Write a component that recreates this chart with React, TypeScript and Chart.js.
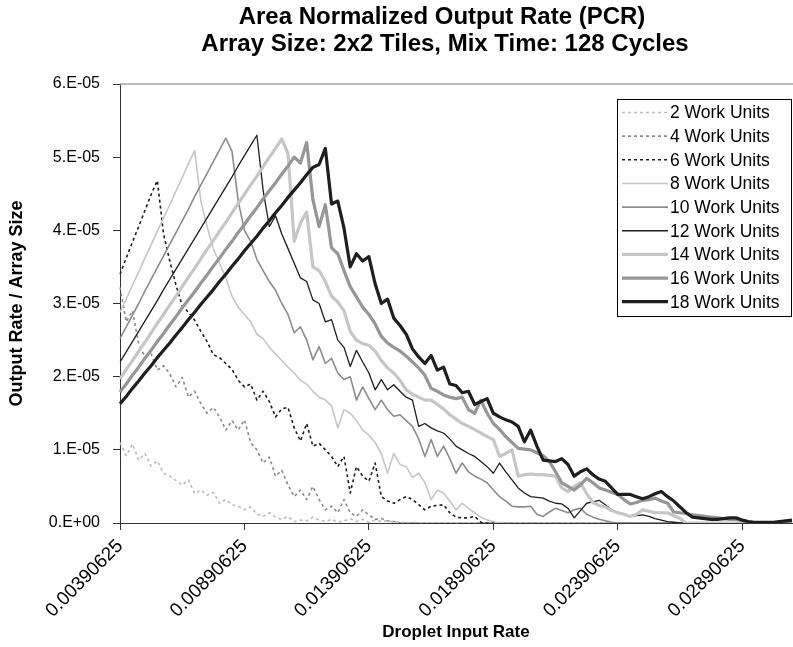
import React, { useEffect, useRef } from "react";
import { Chart, registerables } from "chart.js";

Chart.register(...registerables);

const FONT = '"Liberation Sans", Arial, Helvetica, sans-serif';

const TITLE_LINES = ["Area Normalized Output Rate (PCR)", "Array Size: 2x2 Tiles, Mix Time: 128 Cycles"];
const X_TITLE = "Droplet Input Rate";
const Y_TITLE = "Output Rate / Array Size";

// x categories: droplet input rate, one point every 0.00025
const X_START = 0.00390625;
const X_STEP = 0.00025;
const POINT_COUNT = 109;
const categories: string[] = Array.from({ length: POINT_COUNT }, (_, i) => String(+(X_START + i * X_STEP).toFixed(8)));
const xTickLabels = ["0.00390625", "0.00890625", "0.01390625", "0.01890625", "0.02390625", "0.02890625"];
const X_LABEL_EVERY = 20;

// y values are in units of 1e-5
const yTickLabels = ["0.E+00", "1.E-05", "2.E-05", "3.E-05", "4.E-05", "5.E-05", "6.E-05"];

const seriesNames = [
  "2 Work Units", "4 Work Units", "6 Work Units", "8 Work Units", "10 Work Units",
  "12 Work Units", "14 Work Units", "16 Work Units", "18 Work Units",
];

const wu2 = [
  1.10, 0.92, 1.08, 0.86, 0.95, 0.78, 0.85, 0.68, 0.64, 0.58,
  0.52, 0.59, 0.40, 0.45, 0.38, 0.42, 0.27, 0.32, 0.25, 0.23,
  0.18, 0.22, 0.12, 0.09, 0.14, 0.08, 0.05, 0.09, 0.02, 0.04,
  0.03, 0.08, 0.04, 0.02, 0.05, 0.01, 0.03, 0.06, 0.02, 0.05,
  0.01, 0.04, 0.02, 0.03, 0.01, 0.02, 0, 0.01, 0, 0,
  0, 0, 0, 0, 0, 0, 0, 0, 0, 0,
  0, 0, 0, 0, 0, 0, 0, 0, 0, 0,
  0, 0, 0, 0, 0, 0, 0, 0, 0, 0,
  0, 0, 0, 0, 0, 0, 0, 0, 0, 0,
  0, 0, 0, 0, 0, 0, 0, 0, 0, 0,
  0, 0, 0, 0, 0, 0, 0, 0, 0,
];
const wu4 = [
  3.22, 2.75, 2.90, 2.45, 2.27, 2.31, 2.09, 2.15, 2.04, 1.86,
  1.99, 1.72, 1.80, 1.63, 1.50, 1.58, 1.45, 1.27, 1.40, 1.27,
  1.41, 1.10, 1.00, 0.82, 0.90, 0.64, 0.72, 0.52, 0.36, 0.45,
  0.32, 0.50, 0.32, 0.18, 0.23, 0.14, 0.32, 0.14, 0.09, 0.18,
  0.11, 0.05, 0.06, 0.03, 0.02, 0, 0, 0, 0, 0,
  0, 0, 0, 0, 0, 0, 0, 0, 0, 0,
  0, 0, 0, 0, 0, 0, 0, 0, 0, 0,
  0, 0, 0, 0, 0, 0, 0, 0, 0, 0,
  0, 0, 0, 0, 0, 0, 0, 0, 0, 0,
  0, 0, 0, 0, 0, 0, 0, 0, 0, 0,
  0, 0, 0, 0, 0, 0, 0, 0, 0,
];
const wu6 = [
  3.40, 3.62, 3.84, 4.05, 4.27, 4.49, 4.68, 3.95, 3.58, 3.25,
  2.97, 2.88, 2.77, 2.62, 2.48, 2.30, 2.26, 2.18, 2.10, 1.95,
  1.86, 1.90, 1.68, 1.80, 1.66, 1.45, 1.56, 1.58, 1.30, 1.12,
  1.36, 1.05, 1.09, 1.00, 0.91, 0.77, 0.91, 0.41, 0.77, 0.64,
  0.57, 0.82, 0.36, 0.30, 0.27, 0.32, 0.36, 0.32, 0.25, 0.18,
  0.23, 0.24, 0.25, 0.14, 0.08, 0.07, 0.07, 0.09, 0.01, 0,
  0, 0, 0, 0, 0, 0, 0, 0, 0, 0,
  0, 0, 0, 0, 0, 0, 0, 0, 0, 0,
  0, 0, 0, 0, 0, 0, 0, 0, 0, 0,
  0, 0, 0, 0, 0, 0, 0, 0, 0, 0,
  0, 0, 0, 0, 0, 0, 0, 0, 0,
];
const wu8 = [
  2.88, 3.06, 3.25, 3.43, 3.62, 3.80, 3.99, 4.17, 4.35, 4.54,
  4.72, 4.91, 5.09, 4.40, 4.05, 3.75, 3.55, 3.35, 3.10, 2.95,
  2.85, 2.75, 2.58, 2.52, 2.40, 2.31, 2.22, 2.13, 2.05, 1.95,
  1.90, 1.80, 1.72, 1.68, 1.60, 1.30, 1.55, 1.50, 1.40, 1.27,
  1.20, 1.10, 0.95, 0.68, 0.95, 0.80, 0.77, 0.62, 0.68, 0.55,
  0.32, 0.45, 0.41, 0.30, 0.18, 0.27, 0.20, 0.14, 0.08, 0.04,
  0.02, 0, 0, 0, 0, 0, 0, 0, 0, 0,
  0, 0, 0, 0, 0, 0, 0, 0, 0, 0,
  0, 0, 0, 0, 0, 0, 0, 0, 0, 0,
  0, 0, 0, 0, 0, 0, 0, 0, 0, 0,
  0, 0, 0, 0, 0, 0, 0, 0, 0,
];
const wu10 = [
  2.52, 2.68, 2.84, 3.00, 3.17, 3.33, 3.49, 3.65, 3.81, 3.97,
  4.13, 4.29, 4.46, 4.62, 4.78, 4.94, 5.10, 5.26, 5.08, 4.40,
  4.00, 3.85, 3.60, 3.45, 3.30, 3.18, 3.00, 2.85, 2.60, 2.68,
  2.50, 2.23, 2.41, 2.18, 2.25, 2.05, 1.96, 2.00, 1.68, 1.86,
  1.70, 1.55, 1.68, 1.55, 1.46, 1.48, 1.40, 1.32, 1.15, 0.91,
  1.14, 0.91, 1.05, 0.88, 0.68, 0.82, 0.70, 0.64, 0.60, 0.55,
  0.45, 0.36, 0.30, 0.23, 0.22, 0.22, 0.23, 0.12, 0.09, 0.15,
  0.20, 0.17, 0.14, 0.18, 0.20, 0.12, 0.08, 0.05, 0.03, 0.01,
  0, 0, 0, 0, 0, 0, 0, 0, 0, 0,
  0, 0, 0, 0, 0, 0, 0, 0, 0, 0,
  0, 0, 0, 0, 0, 0, 0, 0, 0,
];
const wu12 = [
  2.20, 2.34, 2.48, 2.62, 2.76, 2.90, 3.04, 3.19, 3.33, 3.47,
  3.61, 3.75, 3.89, 4.03, 4.17, 4.31, 4.45, 4.59, 4.73, 4.88,
  5.02, 5.16, 5.30, 4.55, 4.05, 4.20, 3.95, 3.75, 3.55, 3.35,
  3.30, 3.05, 3.00, 2.75, 2.78, 2.50, 2.40, 2.14, 2.36, 2.20,
  2.05, 1.82, 1.96, 1.82, 1.89, 1.80, 1.72, 1.68, 1.32, 1.36,
  1.30, 1.26, 1.23, 1.15, 1.05, 1.00, 0.95, 0.91, 0.84, 0.77,
  0.68, 0.82, 0.70, 0.59, 0.48, 0.41, 0.36, 0.35, 0.34, 0.30,
  0.27, 0.26, 0.20, 0.07, 0.17, 0.27, 0.29, 0.31, 0.25, 0.18,
  0.15, 0.12, 0.09, 0.10, 0.11, 0.09, 0.06, 0.04, 0.02, 0.01,
  0, 0, 0, 0, 0, 0, 0, 0, 0, 0,
  0, 0, 0, 0, 0, 0, 0, 0, 0,
];
const wu14 = [
  1.97, 2.10, 2.22, 2.35, 2.47, 2.60, 2.73, 2.85, 2.98, 3.10,
  3.23, 3.36, 3.48, 3.61, 3.74, 3.86, 3.99, 4.11, 4.24, 4.37,
  4.49, 4.62, 4.74, 4.87, 5.00, 5.12, 5.25, 5.05, 3.85, 4.10,
  4.25, 3.50, 3.45, 3.30, 3.10, 3.02, 2.90, 2.62, 2.50, 2.45,
  2.43, 2.35, 2.22, 2.12, 2.05, 1.95, 1.82, 1.76, 1.72, 1.68,
  1.68, 1.62, 1.56, 1.48, 1.42, 1.36, 1.32, 1.28, 1.23, 1.18,
  1.14, 0.91, 0.95, 1.00, 0.64, 0.66, 0.67, 0.66, 0.66, 0.65,
  0.64, 0.48, 0.43, 0.50, 0.55, 0.40, 0.28, 0.24, 0.22, 0.17,
  0.14, 0.12, 0.09, 0.12, 0.18, 0.16, 0.14, 0.14, 0.14, 0.10,
  0.06, 0, 0, 0, 0, 0, 0, 0, 0, 0,
  0, 0, 0, 0, 0, 0, 0, 0, 0,
];
const wu16 = [
  1.79, 1.90, 2.02, 2.13, 2.25, 2.36, 2.48, 2.59, 2.71, 2.82,
  2.94, 3.05, 3.16, 3.28, 3.39, 3.51, 3.62, 3.74, 3.85, 3.97,
  4.08, 4.20, 4.31, 4.43, 4.54, 4.65, 4.77, 4.88, 5.00, 4.92,
  5.20, 4.42, 4.05, 4.35, 3.76, 3.68, 3.45, 3.23, 3.09, 2.95,
  2.85, 2.72, 2.55, 2.46, 2.40, 2.35, 2.28, 2.20, 2.12, 2.02,
  1.84, 1.80, 1.75, 1.72, 1.70, 1.72, 1.55, 1.50, 1.68, 1.50,
  1.36, 1.28, 1.18, 1.10, 1.02, 1.01, 1.00, 0.96, 0.92, 0.84,
  0.70, 0.55, 0.50, 0.45, 0.52, 0.61, 0.55, 0.48, 0.45, 0.42,
  0.39, 0.32, 0.26, 0.28, 0.31, 0.32, 0.34, 0.30, 0.27, 0.15,
  0.14, 0.13, 0.11, 0.10, 0.09, 0.08, 0.07, 0.06, 0.05, 0.05,
  0.03, 0.01, 0, 0, 0, 0, 0, 0, 0,
];
const wu18 = [
  1.63, 1.73, 1.84, 1.94, 2.05, 2.15, 2.26, 2.36, 2.46, 2.57,
  2.67, 2.78, 2.88, 2.99, 3.09, 3.19, 3.30, 3.40, 3.51, 3.61,
  3.72, 3.82, 3.92, 4.03, 4.13, 4.24, 4.34, 4.45, 4.55, 4.65,
  4.76, 4.86, 4.90, 5.12, 4.36, 4.40, 4.03, 3.50, 3.68, 3.58,
  3.64, 3.27, 3.00, 3.06, 2.80, 2.70, 2.58, 2.38, 2.27, 2.18,
  2.29, 2.09, 2.13, 1.90, 1.88, 1.78, 1.80, 1.62, 1.66, 1.70,
  1.50, 1.45, 1.41, 1.38, 1.32, 1.11, 1.27, 1.05, 0.86, 0.85,
  0.84, 0.88, 0.80, 0.64, 0.70, 0.74, 0.66, 0.60, 0.57, 0.48,
  0.39, 0.39, 0.39, 0.36, 0.33, 0.36, 0.40, 0.43, 0.36, 0.30,
  0.22, 0.14, 0.08, 0.07, 0.06, 0.05, 0.05, 0.06, 0.07, 0.07,
  0.04, 0.02, 0.01, 0.01, 0.01, 0.01, 0.02, 0.03, 0.04,
];

const seriesValues = [wu2, wu4, wu6, wu8, wu10, wu12, wu14, wu16, wu18];

const seriesStyles = [
  { color: "#bcbcbc", width: 1.6, dash: [3, 3] },
  { color: "#8a8a8a", width: 1.6, dash: [3, 3] },
  { color: "#1e1e1e", width: 1.6, dash: [3, 3] },
  { color: "#c6c6c6", width: 1.6, dash: [] as number[] },
  { color: "#8c8c8c", width: 1.6, dash: [] as number[] },
  { color: "#1e1e1e", width: 1.3, dash: [] as number[] },
  { color: "#c6c6c6", width: 3.2, dash: [] as number[] },
  { color: "#969696", width: 3.2, dash: [] as number[] },
  { color: "#1e1e1e", width: 3.2, dash: [] as number[] },
];

const titlePlugin = {
  id: "twoLineTitle",
  afterDraw(chart: any) {
    const ctx = chart.ctx;
    ctx.save();
    ctx.fillStyle = "#000";
    ctx.font = `bold 24px ${FONT}`;
    ctx.textAlign = "center";
    ctx.textBaseline = "middle";
    ctx.fillText(TITLE_LINES[0], 442, 17);
    ctx.fillText(TITLE_LINES[1], 445, 44);
    ctx.restore();
  },
};

const frameTopPlugin = {
  id: "frameTop",
  beforeDatasetsDraw(chart: any) {
    const { ctx, chartArea } = chart;
    ctx.save();
    ctx.strokeStyle = "#a6a6a6";
    ctx.lineWidth = 1.5;
    ctx.beginPath();
    ctx.moveTo(chartArea.left, chartArea.top);
    ctx.lineTo(chartArea.right + 2, chartArea.top);
    ctx.stroke();
    ctx.restore();
  },
};

const boxLegendPlugin = {
  id: "boxLegend",
  afterDraw(chart: any) {
    const { ctx } = chart;
    const left = 617, top = 99, right = 792, bottom = 317;
    ctx.save();
    ctx.fillStyle = "#fff";
    ctx.fillRect(left, top, right - left, bottom - top);
    ctx.strokeStyle = "#000";
    ctx.lineWidth = 1;
    ctx.strokeRect(left + 0.5, top + 0.5, right - left - 1, bottom - top - 1);
    chart.data.datasets.forEach((ds: any, k: number) => {
      const y = 112.5 + k * 23.65;
      ctx.beginPath();
      ctx.setLineDash(ds.borderDash || []);
      ctx.strokeStyle = ds.borderColor;
      ctx.lineWidth = ds.borderWidth;
      ctx.moveTo(622, y);
      ctx.lineTo(668, y);
      ctx.stroke();
      ctx.setLineDash([]);
      ctx.fillStyle = "#000";
      ctx.font = `17.5px ${FONT}`;
      ctx.textAlign = "left";
      ctx.textBaseline = "middle";
      ctx.fillText(ds.label, 670, y + 1);
    });
    ctx.restore();
  },
};

export default function App() {
  const canvasRef = useRef<HTMLCanvasElement | null>(null);

  useEffect(() => {
    const canvas = canvasRef.current;
    if (!canvas) return;
    const chart = new Chart(canvas, {
      type: "line",
      data: {
        labels: categories,
        datasets: seriesNames.map((name, k) => ({
          label: name,
          data: seriesValues[k],
          borderColor: seriesStyles[k].color,
          backgroundColor: seriesStyles[k].color,
          borderWidth: seriesStyles[k].width,
          borderDash: seriesStyles[k].dash,
          pointRadius: 0,
          pointHoverRadius: 0,
          tension: 0,
          fill: false,
          borderJoinStyle: "round" as const,
          order: seriesNames.length - 1 - k,
        })),
      },
      options: {
        animation: false,
        responsive: false,
        devicePixelRatio: 1,
        events: [],
        layout: { padding: { top: 84, right: 1, bottom: 0, left: 0 } },
        plugins: {
          legend: { display: false },
          title: { display: false },
          tooltip: { enabled: false },
        },
        scales: {
          x: {
            type: "category",
            offset: false,
            afterFit: (scale: any) => { scale.height = 124; },
            grid: { drawOnChartArea: false, drawTicks: true, tickLength: 7, color: "#333" },
            border: { display: true, color: "#333", width: 1 },
            ticks: {
              autoSkip: false,
              maxRotation: 45,
              minRotation: 45,
              padding: 5,
              color: "#000",
              font: { family: FONT, size: 19 },
              callback: (_v: any, index: number) =>
                index % X_LABEL_EVERY === 0 ? (xTickLabels[index / X_LABEL_EVERY] ?? null) : null,
            },
            title: {
              display: true,
              text: X_TITLE,
              color: "#000",
              font: { family: FONT, size: 17, weight: "bold" },
              padding: { top: 0, bottom: 4 },
            },
          },
          y: {
            type: "linear",
            min: 0,
            max: 6,
            afterFit: (scale: any) => { scale.width = 120; },
            grid: { drawOnChartArea: false, drawTicks: true, tickLength: 7, color: "#333" },
            border: { display: true, color: "#333", width: 1 },
            ticks: {
              stepSize: 1,
              padding: 13,
              color: "#000",
              font: { family: FONT, size: 16 },
              callback: (v: any) => yTickLabels[Math.round(Number(v))] ?? "",
            },
            title: {
              display: true,
              text: Y_TITLE,
              color: "#000",
              font: { family: FONT, size: 18, weight: "bold" },
              padding: { top: 6, bottom: 0 },
            },
          },
        },
      },
      plugins: [frameTopPlugin, titlePlugin, boxLegendPlugin],
    });
    return () => chart.destroy();
  }, []);

  return (
    <div style={{ position: "fixed", left: 0, top: 0, width: 793, height: 647, background: "#fff" }}>
      <canvas ref={canvasRef} width={793} height={647} style={{ width: 793, height: 647, display: "block" }} />
    </div>
  );
}
